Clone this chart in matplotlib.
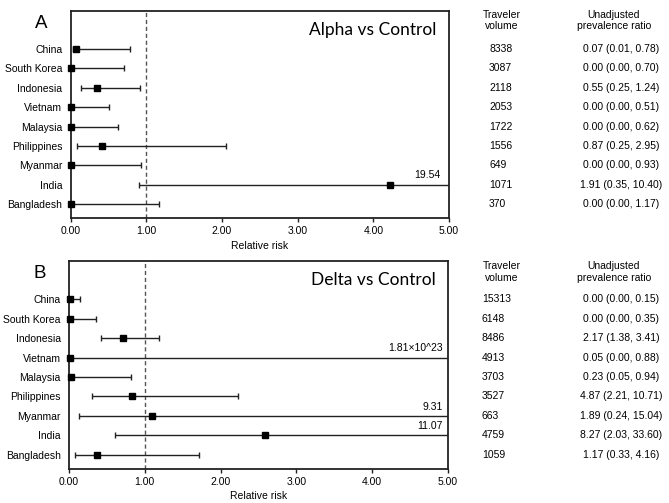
import numpy as np
import matplotlib
matplotlib.use("Agg")
import matplotlib.pyplot as plt
from matplotlib.transforms import blended_transform_factory

countries = ["China", "South Korea", "Indonesia", "Vietnam", "Malaysia",
             "Philippines", "Myanmar", "India", "Bangladesh"]

# Panel A: Alpha vs Control
a_rr = [0.075, 0.0, 0.35, 0.0, 0.0, 0.41, 0.0, 4.22, 0.0]
a_lo = [0.03, 0.0, 0.13, 0.0, 0.0, 0.085, 0.0, 0.90, 0.0]
a_hi = [0.79, 0.70, 0.92, 0.51, 0.62, 2.05, 0.93, 19.54, 1.17]
a_volume = ["8338", "3087", "2118", "2053", "1722", "1556", "649", "1071", "370"]
a_ratio = ["0.07 (0.01, 0.78)", "0.00 (0.00, 0.70)", "0.55 (0.25, 1.24)",
           "0.00 (0.00, 0.51)", "0.00 (0.00, 0.62)", "0.87 (0.25, 2.95)",
           "0.00 (0.00, 0.93)", "1.91 (0.35, 10.40)", "0.00 (0.00, 1.17)"]
a_offscale = {"India": "19.54"}

# Panel B: Delta vs Control
b_rr = [0.01, 0.01, 0.71, 0.01, 0.03, 0.83, 1.09, 2.58, 0.37]
b_lo = [0.0, 0.0, 0.42, 0.0, 0.0, 0.30, 0.13, 0.61, 0.08]
b_hi = [0.15, 0.36, 1.19, 1.81e23, 0.82, 2.23, 9.31, 11.07, 1.71]
b_volume = ["15313", "6148", "8486", "4913", "3703", "3527", "663", "4759", "1059"]
b_ratio = ["0.00 (0.00, 0.15)", "0.00 (0.00, 0.35)", "2.17 (1.38, 3.41)",
           "0.05 (0.00, 0.88)", "0.23 (0.05, 0.94)", "4.87 (2.21, 10.71)",
           "1.89 (0.24, 15.04)", "8.27 (2.03, 33.60)", "1.17 (0.33, 4.16)"]
b_offscale = {"Vietnam": "1.81×10^23", "Myanmar": "9.31", "India": "11.07"}

xticks = [0, 1, 2, 3, 4, 5]
xticklabels = ["0.00", "1.00", "2.00", "3.00", "4.00", "5.00"]

plt.rcParams['font.family'] = ['Liberation Sans', 'DejaVu Sans']

fig = plt.figure(figsize=(6.69, 5.03), dpi=100)

panels = [
    dict(rect=[0.1057, 0.5666, 0.5654, 0.4115], rr=a_rr, lo=a_lo, hi=a_hi,
         vol=a_volume, ratio=a_ratio, off=a_offscale, letter="A",
         title="Alpha vs Control", head_y=(15, 26), vol_x=489, off_x=4.88),
    dict(rect=[0.1031, 0.0676, 0.5665, 0.4135], rr=b_rr, lo=b_lo, hi=b_hi,
         vol=b_volume, ratio=b_ratio, off=b_offscale, letter="B",
         title="Delta vs Control", head_y=(266, 278), vol_x=482, off_x=4.93),
]

XMAX = 5.0
H = 503.0
W = 669.0
col = "#222222"

for p in panels:
    ax = fig.add_axes(p["rect"])
    n = len(countries)
    y = np.arange(n, 0, -1)
    rr = np.array(p["rr"])
    lo = np.array(p["lo"])
    hi = np.array(p["hi"])
    hi_draw = np.minimum(hi, XMAX * 1.3)
    ax.errorbar(rr, y, xerr=[rr - lo, hi_draw - rr], fmt="none",
                ecolor=col, elinewidth=1.0, capsize=2.2, capthick=1.0,
                clip_on=True, zorder=3)
    ax.plot(rr, y, "s", color="black", markersize=5.0, clip_on=False, zorder=4)
    ax.axvline(1.0, color="#555555", linestyle=(0, (3, 2)), linewidth=1.0, zorder=1)
    ax.set_xlim(0, XMAX)
    ax.set_ylim(0.27, 10.97)
    ax.set_yticks(y)
    ax.set_yticklabels(countries, fontsize=7.5)
    ax.tick_params(axis="y", length=0, pad=6)
    ax.set_xticks(xticks)
    ax.set_xticklabels(xticklabels, fontsize=7.5)
    ax.tick_params(axis="x", length=3, width=1, direction="out", pad=3, color=col)
    ax.set_xlabel("Relative risk", fontsize=7.5, labelpad=3)
    for s in ax.spines.values():
        s.set_color(col)
        s.set_linewidth(1.3)
    # off-scale labels
    for c, txt in p["off"].items():
        i = countries.index(c)
        ax.text(p["off_x"], y[i] + 0.22, txt, ha="right", va="bottom", fontsize=7.5)
    # title
    ax.text(4.84, 10.0, p["title"], ha="right", va="center", fontsize=12.5,
            family=["Lato", "DejaVu Sans"])
    # panel letter
    ax.text(-0.39, 10.35, p["letter"], ha="center", va="center", fontsize=13.5,
            clip_on=False)
    # table
    tr = blended_transform_factory(fig.transFigure, ax.transData)
    for i in range(n):
        fig.text(p["vol_x"] / W, y[i], p["vol"][i], transform=tr, ha="left",
                 va="center", fontsize=7.5)
        fig.text(621 / W, y[i], p["ratio"][i], transform=tr, ha="center",
                 va="center", fontsize=7.5)
    hy1, hy2 = p["head_y"]
    fig.text(502 / W, 1 - hy1 / H, "Traveler", ha="center", va="center", fontsize=7.5)
    fig.text(502 / W, 1 - hy2 / H, "volume", ha="center", va="center", fontsize=7.5)
    fig.text(614 / W, 1 - hy1 / H, "Unadjusted", ha="center", va="center", fontsize=7.5)
    fig.text(614 / W, 1 - hy2 / H, "prevalence ratio", ha="center", va="center", fontsize=7.5)

fig.savefig("out.png", dpi=100)
